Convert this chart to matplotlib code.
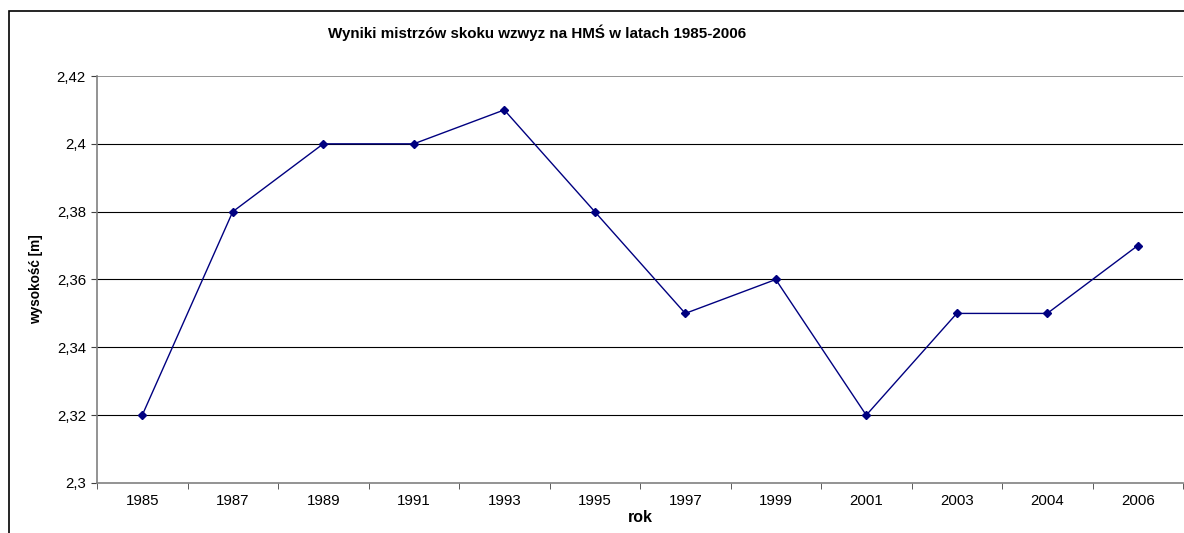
import matplotlib
matplotlib.use("Agg")
import matplotlib.pyplot as plt
from matplotlib.patches import Rectangle
import numpy as np

years = ["1985", "1987", "1989", "1991", "1993", "1995", "1997", "1999", "2001", "2003", "2004", "2006"]
heights = [2.32, 2.38, 2.40, 2.40, 2.41, 2.38, 2.35, 2.36, 2.32, 2.35, 2.35, 2.37]
yticks = [2.30, 2.32, 2.34, 2.36, 2.38, 2.40, 2.42]
ytick_labels = ["2,3", "2,32", "2,34", "2,36", "2,38", "2,4", "2,42"]

plt.rcParams['font.family'] = ['Liberation Sans', 'DejaVu Sans']

W, H = 1184, 533
fig = plt.figure(figsize=(W / 100, H / 100), dpi=100)
fig.patch.set_facecolor("white")

# outer chart border (cropped at right/bottom)
fig.patches.append(Rectangle((9 / W, -0.1), 1.2, 1 - 11 / H + 0.1, transform=fig.transFigure,
                             fill=False, edgecolor="black", linewidth=1.2, zorder=0))

ax = fig.add_axes([97 / W, 1 - 483 / H, (1183 - 97) / W, (483 - 76) / H])
x = np.arange(len(years))
ax.plot(x, heights, color="#000080", linewidth=1.0, marker="D", markersize=4.5,
        markerfacecolor="#000080", markeredgecolor="#000080", zorder=3)

ax.set_xlim(-0.5, len(years) - 0.5)
ax.set_ylim(2.30, 2.42)
ax.set_yticks(yticks)
ax.set_yticklabels(ytick_labels, fontsize=10.8)
ax.set_xticks(x)
ax.set_xticklabels(years, fontsize=10.8)
ax.set_xticks(np.arange(len(years) + 1) - 0.5, minor=True)
ax.tick_params(axis="x", which="major", length=0, pad=8)
ax.tick_params(axis="x", which="minor", length=4, color="#404040", direction="out")
ax.tick_params(axis="y", length=4, color="#404040", direction="out", pad=4)

for y in yticks[1:-1]:
    ax.axhline(y, color="black", linewidth=0.8, zorder=1)
ax.axhline(2.42, color="#808080", linewidth=1.2, zorder=1)

for s in ["top", "right"]:
    ax.spines[s].set_visible(False)
ax.spines["left"].set_color("#808080")
ax.spines["bottom"].set_color("#808080")
ax.spines["left"].set_linewidth(1.2)
ax.spines["bottom"].set_linewidth(1.2)

fig.text(537.5 / W, 1 - 33 / H, "Wyniki mistrzów skoku wzwyz na HMŚ w latach 1985-2006",
         ha="center", va="center", fontsize=10.9, fontweight="bold")
fig.text(640 / W, 1 - 518 / H, "rok", ha="center", va="center", fontsize=11.5, fontweight="bold")
fig.text(36 / W, 1 - 279 / H, "wysokość [m]", ha="center", va="center", rotation=90,
         fontsize=9.8, fontweight="bold")

fig.savefig("out.png", dpi=100)
